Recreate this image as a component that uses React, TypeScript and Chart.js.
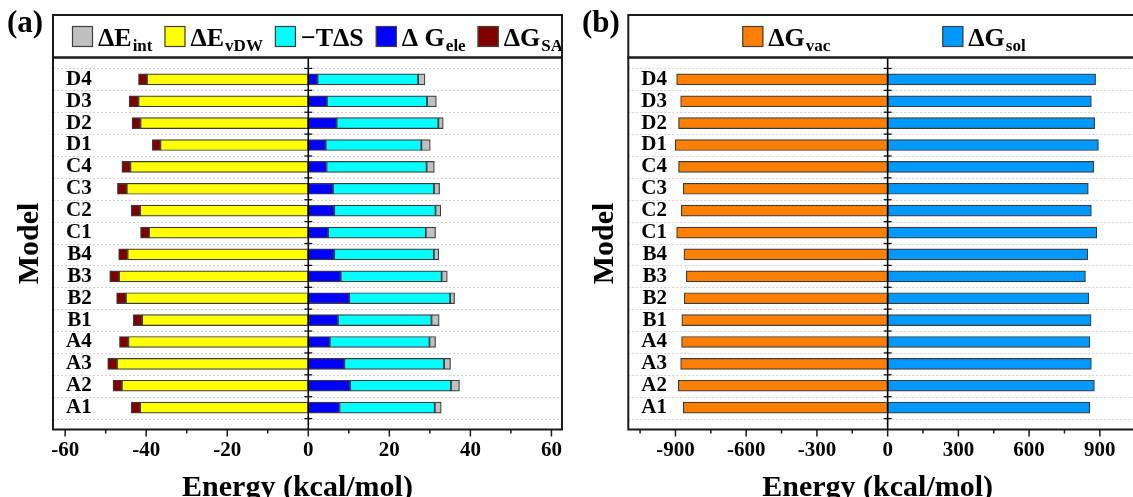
import React, { useEffect, useRef } from 'react';
import { Chart, registerables } from 'chart.js';

Chart.register(...registerables);

// ---------- data (top row first) ----------
const models = ['D4', 'D3', 'D2', 'D1', 'C4', 'C3', 'C2', 'C1', 'B4', 'B3', 'B2', 'B1', 'A4', 'A3', 'A2', 'A1'];
const eVdw = [-39.8, -41.9, -41.4, -36.5, -43.9, -44.8, -41.5, -39.3, -44.6, -46.7, -45.0, -41.0, -44.4, -47.2, -46.0, -41.5];
const gSa = [-2.1, -2.3, -2.1, -2.0, -2.1, -2.3, -2.2, -2.1, -2.2, -2.3, -2.3, -2.2, -2.2, -2.3, -2.2, -2.2];
const gEle = [2.3, 4.6, 7.0, 4.3, 4.5, 6.1, 6.4, 4.9, 6.4, 8.0, 10.1, 7.3, 5.3, 8.9, 10.3, 7.7];
const minusTdS = [24.8, 24.7, 25.1, 23.6, 24.7, 24.9, 25.0, 24.1, 24.6, 24.9, 24.9, 23.1, 24.6, 24.6, 24.9, 23.5];
const eInt = [1.7, 2.3, 1.2, 2.2, 1.9, 1.4, 1.3, 2.4, 1.2, 1.4, 1.1, 1.9, 1.5, 1.6, 2.1, 1.6];
const gVac = [-895, -878, -887, -901, -887, -867, -875, -895, -864, -854, -863, -873, -874, -878, -888, -867];
const gSol = [882, 864, 878, 894, 874, 851, 864, 887, 849, 839, 853, 863, 858, 864, 877, 857];

const majorTicksA = [-60, -40, -20, 0, 20, 40, 60];
const minorTicksA = [-50, -30, -10, 10, 30, 50];
const majorTicksB = [-900, -600, -300, 0, 300, 600, 900];
const minorTicksB = [-1050, -750, -450, -150, 150, 450, 750, 1050];

const rowLabels = ['', ...models, ''];
const pad = (arr: number[]) => [null, ...arr, null];

const FONT = '"Liberation Serif", "Times New Roman", serif';
const W = 1133;
const H = 497;

type LegendItem = { main: string; sub: string; color: string };

const legendA: LegendItem[] = [
  { main: 'ΔE', sub: 'int', color: '#c0c0c0' },
  { main: 'ΔE', sub: 'vDW', color: '#ffff00' },
  { main: '−TΔS', sub: '', color: '#00ffff' },
  { main: 'Δ G', sub: 'ele', color: '#0000ff' },
  { main: 'ΔG', sub: 'SA', color: '#800000' },
];
const legendB: LegendItem[] = [
  { main: 'ΔG', sub: 'vac', color: '#ff8000' },
  { main: 'ΔG', sub: 'sol', color: '#0099ff' },
];

function makeDecor(opts: {
  panel: string;
  panelX: number;
  titleX: number;
  legend: LegendItem[];
  legendX: (i: number, chart: any, prevEnd: number) => number;
  majors: number[];
  minors: number[];
}) {
  return {
    id: 'decor',
    beforeDatasetsDraw(chart: any) {
      const { ctx, chartArea: a, scales } = chart;
      const y = scales.y;
      ctx.save();
      ctx.strokeStyle = '#d2d2d2';
      ctx.lineWidth = 1;
      ctx.setLineDash([2, 2]);
      for (let i = 0; i < rowLabels.length - 1; i++) {
        const yy = Math.round((y.getPixelForValue(i) + y.getPixelForValue(i + 1)) / 2) + 0.5;
        ctx.beginPath();
        ctx.moveTo(a.left, yy);
        ctx.lineTo(a.right, yy);
        ctx.stroke();
      }
      ctx.restore();
    },
    afterDraw(chart: any) {
      const { ctx, chartArea: a, scales } = chart;
      const x = scales.x;
      const y = scales.y;
      ctx.save();
      // zero line with crossing ticks
      const x0 = x.getPixelForValue(0);
      ctx.strokeStyle = '#000';
      ctx.lineWidth = 1.6;
      ctx.beginPath();
      ctx.moveTo(x0, a.top);
      ctx.lineTo(x0, a.bottom);
      ctx.stroke();
      ctx.lineWidth = 1.2;
      for (let i = 0; i < rowLabels.length - 1; i++) {
        const yy = (y.getPixelForValue(i) + y.getPixelForValue(i + 1)) / 2;
        ctx.beginPath();
        ctx.moveTo(x0 - 4, yy);
        ctx.lineTo(x0 + 4, yy);
        ctx.stroke();
      }
      // frames
      const legendTop = 15;
      ctx.strokeStyle = '#1a1a1a';
      ctx.lineWidth = 2;
      ctx.strokeRect(a.left, a.top, a.right - a.left, a.bottom - a.top);
      ctx.strokeRect(a.left, legendTop, a.right - a.left, a.top - legendTop);
      // bottom ticks (outward)
      ctx.lineWidth = 1.5;
      opts.majors.forEach((v) => {
        const px = x.getPixelForValue(v);
        ctx.beginPath();
        ctx.moveTo(px, a.bottom);
        ctx.lineTo(px, a.bottom + 7);
        ctx.stroke();
      });
      opts.minors.forEach((v) => {
        const px = x.getPixelForValue(v);
        ctx.beginPath();
        ctx.moveTo(px, a.bottom);
        ctx.lineTo(px, a.bottom + 4);
        ctx.stroke();
      });
      // legend
      const boxSize = 21;
      const boxTop = 26;
      let prevEnd = a.left;
      opts.legend.forEach((it, i) => {
        const bx = opts.legendX(i, chart, prevEnd);
        ctx.fillStyle = it.color;
        ctx.fillRect(bx, boxTop, boxSize, boxSize);
        ctx.strokeStyle = '#404040';
        ctx.lineWidth = 1.2;
        ctx.strokeRect(bx + 0.5, boxTop + 0.5, boxSize - 1, boxSize - 1);
        ctx.fillStyle = '#000';
        ctx.textAlign = 'left';
        ctx.textBaseline = 'alphabetic';
        ctx.font = `bold 26px ${FONT}`;
        const tx = bx + boxSize + 5;
        ctx.fillText(it.main, tx, 46);
        let end = tx + ctx.measureText(it.main).width;
        if (it.sub) {
          ctx.font = `bold 17px ${FONT}`;
          ctx.fillText(it.sub, end + 1, 51);
          end += 1 + ctx.measureText(it.sub).width;
        }
        prevEnd = end;
      });
      // panel label
      ctx.fillStyle = '#000';
      ctx.font = `bold 31px ${FONT}`;
      ctx.textAlign = 'left';
      ctx.fillText(opts.panel, opts.panelX, 32);
      // y title
      ctx.save();
      ctx.translate(opts.titleX, (a.top + a.bottom) / 2);
      ctx.rotate(-Math.PI / 2);
      ctx.textAlign = 'center';
      ctx.textBaseline = 'middle';
      ctx.font = `bold 30px ${FONT}`;
      ctx.fillText('Model', 0, 0);
      ctx.restore();
      // x title
      ctx.textAlign = 'center';
      ctx.textBaseline = 'alphabetic';
      ctx.font = `bold 30px ${FONT}`;
      ctx.fillText('Energy (kcal/mol)', (a.left + a.right) / 2 - 10, 496);
      ctx.restore();
    },
  };
}

function baseOptions(min: number, max: number, majors: number[], padLeft: number, padRight: number) {
  return {
    indexAxis: 'y' as const,
    animation: false as const,
    responsive: false,
    devicePixelRatio: 1,
    layout: { padding: { left: padLeft, right: padRight, top: 57.5, bottom: 0 } },
    plugins: { legend: { display: false }, tooltip: { enabled: false } },
    scales: {
      x: {
        type: 'linear' as const,
        min,
        max,
        stacked: true,
        grid: { display: false, drawTicks: false },
        border: { display: false },
        ticks: {
          font: { family: FONT, size: 21, weight: 'bold' as const },
          color: '#000',
          padding: 8,
          autoSkip: false,
          maxRotation: 0,
        },
        afterBuildTicks: (s: any) => {
          s.ticks = majors.map((v) => ({ value: v }));
        },
        afterFit: (s: any) => {
          s.height = H - 429.5;
        },
      },
      y: {
        type: 'category' as const,
        offset: false,
        stacked: true,
        grid: { display: false, drawTicks: false },
        border: { display: false },
        ticks: {
          mirror: true,
          crossAlign: 'far' as const,
          padding: 13,
          font: { family: FONT, size: 21, weight: 'bold' as const },
          color: '#000',
          autoSkip: false,
        },
        afterFit: (s: any) => {
          s.width = 0;
        },
      },
    },
  };
}

const barStyle = { borderColor: '#3c3c3c', borderWidth: 1.2, borderSkipped: false, barThickness: 11 };

export default function App() {
  const refA = useRef<HTMLCanvasElement | null>(null);
  const refB = useRef<HTMLCanvasElement | null>(null);

  useEffect(() => {
    const chartA = new Chart(refA.current as HTMLCanvasElement, {
      type: 'bar',
      data: {
        labels: rowLabels,
        datasets: [
          { label: 'ΔEvDW', data: pad(eVdw), backgroundColor: '#ffff00', ...barStyle },
          { label: 'ΔGSA', data: pad(gSa), backgroundColor: '#800000', ...barStyle },
          { label: 'ΔGele', data: pad(gEle), backgroundColor: '#0000ff', ...barStyle },
          { label: '−TΔS', data: pad(minusTdS), backgroundColor: '#00ffff', ...barStyle },
          { label: 'ΔEint', data: pad(eInt), backgroundColor: '#c0c0c0', ...barStyle },
        ] as any,
      },
      options: baseOptions(-63, 62.6, majorTicksA, 53, 570 - 566.7) as any,
      plugins: [
        makeDecor({
          panel: '(a)',
          panelX: 7,
          titleX: 30,
          legend: legendA,
          legendX: (i, chart, prevEnd) => (i === 0 ? chart.chartArea.left + 19 : prevEnd + 12),
          majors: majorTicksA,
          minors: minorTicksA,
        }) as any,
      ],
    });

    const chartB = new Chart(refB.current as HTMLCanvasElement, {
      type: 'bar',
      data: {
        labels: rowLabels,
        datasets: [
          { label: 'ΔGvac', data: pad(gVac), backgroundColor: '#ff8000', ...barStyle },
          { label: 'ΔGsol', data: pad(gSol), backgroundColor: '#0099ff', ...barStyle },
        ] as any,
      },
      options: baseOptions(-1100, 1100, majorTicksB, 58.3, 3) as any,
      plugins: [
        makeDecor({
          panel: '(b)',
          panelX: 12,
          titleX: 35,
          legend: legendB,
          legendX: (i, chart) => chart.chartArea.left + (i === 0 ? 114 : 314),
          majors: majorTicksB,
          minors: minorTicksB,
        }) as any,
      ],
    });

    return () => {
      chartA.destroy();
      chartB.destroy();
    };
  }, []);

  return (
    <div
      style={{
        position: 'absolute',
        left: 0,
        top: 0,
        width: W,
        height: H,
        overflow: 'hidden',
        background: '#fff',
      }}
    >
      <canvas ref={refA} width={570} height={H} style={{ position: 'absolute', left: 0, top: 0 }} />
      <canvas ref={refB} width={580} height={H} style={{ position: 'absolute', left: 570, top: 0 }} />
    </div>
  );
}
